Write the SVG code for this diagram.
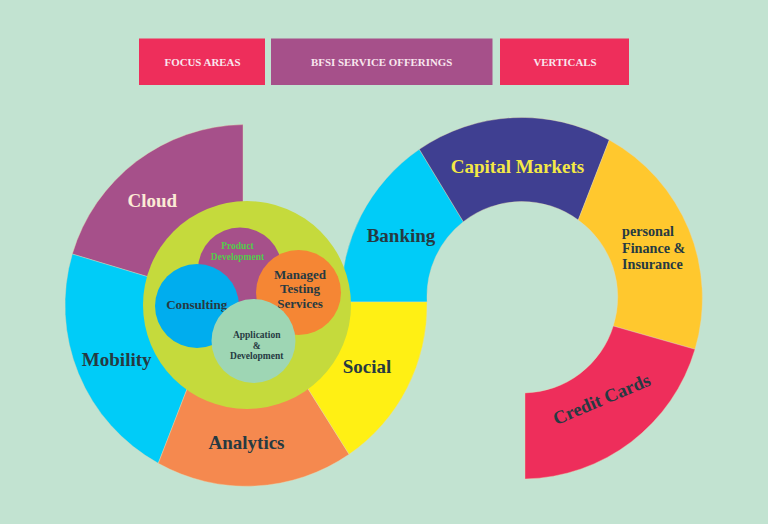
<svg xmlns="http://www.w3.org/2000/svg" width="768" height="524" viewBox="0 0 768 524">
<style>
text{font-family:"Liberation Serif","Times New Roman",serif;font-weight:bold;text-anchor:middle}
.seg{stroke:#e6d9b0;stroke-width:0.4}
.dark{fill:#263a42}
.hdr{fill:#f9e6ee;font-size:10.9px}
.big{font-size:19px}
</style>
<rect width="768" height="524" fill="#c2e3d1"/>
<g id="header-focus-areas"><rect x="139" y="38.5" width="126" height="46.5" fill="#ee2e5b"/><text class="hdr" x="202.5" y="65.5">FOCUS AREAS</text></g>
<g id="header-bfsi"><rect x="271" y="38.5" width="221.5" height="46.5" fill="#a6508a"/><text class="hdr" x="381.7" y="65.5">BFSI SERVICE OFFERINGS</text></g>
<g id="header-verticals"><rect x="500" y="38.5" width="129" height="46.5" fill="#ee2e5b"/><text class="hdr" x="565" y="65.5">VERTICALS</text></g>

<g id="banking"><path class="seg" d="M341,302 A181,181 0 0 1 419.3,149.3 L463.3,221.7 A95,95 0 0 0 427.1,302 Z" fill="#00ccf8"/><text class="dark big" x="401" y="242">Banking</text></g>
<g id="capital-markets"><path class="seg" d="M419.3,149.3 A181,181 0 0 1 609.3,140 L578.3,220 A95,95 0 0 0 463.3,221.7 Z" fill="#3f3f91"/><text class="big" fill="#f4e945" x="517.5" y="172.5">Capital Markets</text></g>
<g id="personal-finance"><path class="seg" d="M609.3,140 A181,181 0 0 1 695,349.3 L613.3,326 A95,95 0 0 0 578.3,220 Z" fill="#ffc82e"/><text class="dark" font-size="14.2" text-anchor="start" style="text-anchor:start" x="622" y="236">personal<tspan x="622" y="252.5">Finance &amp;</tspan><tspan x="622" y="269">Insurance</tspan></text></g>
<g id="credit-cards"><path class="seg" d="M695,349.3 A181,181 0 0 1 525,479 L525,393 A95,95 0 0 0 613.3,326 Z" fill="#ee2e5b"/><text class="dark" font-size="18.5" x="604" y="405" transform="rotate(-23 604 405)">Credit Cards</text></g>

<g id="cloud"><path class="seg" d="M243,124.6 L243,240 L170.3,283.5 L72.3,254 A181,181 0 0 1 243,124.6 Z" fill="#a6508a"/><text class="big" fill="#fcebd5" x="152.3" y="207.3">Cloud</text></g>
<g id="mobility"><path class="seg" d="M72.3,254 A181,181 0 0 0 158.3,463.3 L195.2,368 L170.3,283.5 Z" fill="#00ccf8"/><text class="dark big" x="116.7" y="365.5">Mobility</text></g>
<g id="analytics"><path class="seg" d="M158.3,463.3 A181,181 0 0 0 349.1,454.3 L296.1,369.8 L195.2,368 Z" fill="#f5894f"/><text class="dark big" x="246.5" y="448.5">Analytics</text></g>
<g id="social"><path class="seg" d="M349.1,454.3 A181,181 0 0 0 427,302 L330,302 L296.1,369.8 Z" fill="#fff014"/><text class="dark big" x="367" y="373">Social</text></g>

<g id="service-offerings"><circle cx="247" cy="305" r="104" fill="#c5da3c"/></g>
<g id="product-development"><circle cx="240" cy="269.5" r="42" fill="#a6508a"/><text fill="#52cc4a" font-size="9.5" x="237.5" y="249">Product<tspan x="237.5" y="259.5">Development</tspan></text></g>
<g id="consulting"><circle cx="197" cy="306" r="42" fill="#00adee"/><text class="dark" font-size="13.1" fill="#1f3a4d" x="196.7" y="308.5">Consulting</text></g>
<g id="managed-testing"><circle cx="298.5" cy="292.5" r="42.5" fill="#f58634"/><text class="dark" font-size="13" x="300" y="278.5">Managed<tspan x="300" y="293">Testing</tspan><tspan x="300" y="307.5">Services</tspan></text></g>
<g id="application-development"><circle cx="253.5" cy="341" r="42" fill="#9ed6b4"/><text class="dark" font-size="9.5" x="256.7" y="337.5">Application<tspan x="256.7" y="348.5">&amp;</tspan><tspan x="256.7" y="358.5">Development</tspan></text></g>
</svg>
